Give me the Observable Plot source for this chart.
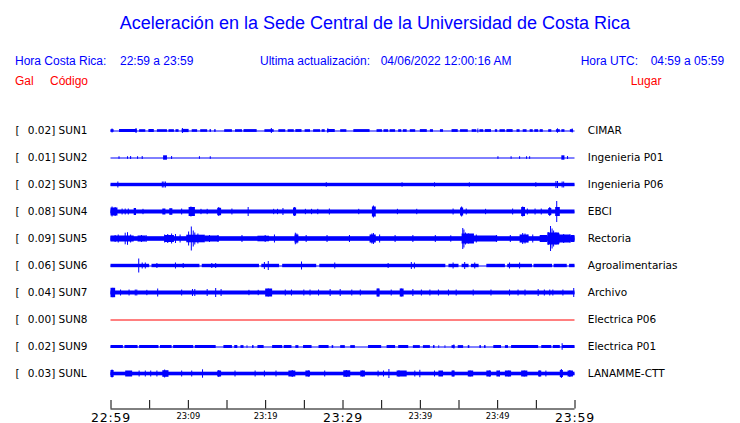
<!DOCTYPE html>
<html><head><meta charset="utf-8">
<script src="https://cdn.jsdelivr.net/npm/d3@7"></script>
<script src="https://cdn.jsdelivr.net/npm/@observablehq/plot@0.6"></script>
<style>
body{margin:0;background:#fff;}
#wrap{position:relative;width:740px;height:423px;overflow:hidden;}
#chart,#head{position:absolute;left:0;top:0;}
</style></head><body>
<div id="wrap"><div id="chart"></div><svg id="head" width="740" height="100"></svg></div>
<script>
// ---------- data ----------
const TITLE = "Aceleración en la Sede Central de la Universidad de Costa Rica";
const LOCAL_LABEL = "Hora Costa Rica:", LOCAL_RANGE = "22:59 a 23:59";
const UPDATE_LABEL = "Ultima actualización:", UPDATE_TIME = "04/06/2022 12:00:16 AM";
const UTC_LABEL = "Hora UTC:", UTC_RANGE = "04:59 a 05:59";
const COL_HEADS = ["Gal", "Código", "Lugar"];

const CODES = ["SUN1","SUN2","SUN3","SUN4","SUN5","SUN6","SUN7","SUN8","SUN9","SUNL"];
const GAL = [0.02, 0.01, 0.02, 0.08, 0.09, 0.06, 0.04, 0.00, 0.02, 0.03];
const PLACES = ["CIMAR","Ingenieria P01","Ingenieria P06","EBCI","Rectoria","Agroalimentarias","Archivo","Electrica P06","Electrica P01","LANAMME-CTT"];

// minutes after 22:59
const TICK_MINUTES = [0,5,10,15,20,25,30,35,40,45,50,55,60];
const LABEL_MINUTES = [0,10,20,30,40,50,60];
const LABEL_TEXT = ["22:59","23:09","23:19","23:29","23:39","23:49","23:59"];
const MAJOR_LABELS = ["22:59","23:29","23:59"];

// trace envelopes: segments [startMin, endMin, halfAmplitude] and spikes [min, halfAmplitude]
const SEGS = [
  [[0,0.4,1.3],[1.1,3.4,1.5],[3.7,4.5,1.3],[4.9,5.6,1.5],[6.0,7.3,1.3],[7.5,8.2,1.3],[8.4,8.8,1.3],[9.2,10.1,1.6],[10.5,11.2,1.3],[11.6,12.5,1.3],[12.8,13.0,1.3],[13.4,13.6,1.3],[14.7,15.7,1.3],[16.1,17.0,1.3],[17.2,18.9,1.4],[19.9,21.1,1.3],[21.7,22.6,1.3],[22.9,23.7,1.3],[23.9,24.7,1.4],[25.1,25.8,1.3],[26.2,27.1,1.3],[27.3,27.7,1.3],[28.0,29.0,1.5],[29.7,30.5,1.3],[31.4,33.5,1.4],[34.4,35.1,1.3],[35.3,35.9,1.3],[36.1,36.8,1.3],[37.2,37.6,1.3],[37.8,38.3,1.3],[38.7,39.4,1.3],[40.0,40.9,1.4],[41.3,41.7,1.3],[42.6,43.0,1.3],[44.1,44.9,1.4],[45.2,46.2,1.3],[46.7,47.3,1.3],[47.7,48.2,1.3],[48.4,49.2,1.4],[49.7,50.0,1.3],[50.3,51.0,1.3],[51.2,52.0,1.4],[52.5,52.9,1.3],[53.3,53.8,1.3],[54.2,54.6,1.3],[54.8,55.3,1.3],[55.5,55.9,1.3],[56.6,57.0,1.3],[57.6,58.1,1.3],[58.3,58.7,1.3],[59.4,59.8,1.3]],
  [[6.8,7.3,2.2],[58.3,58.7,2.2]],
  [[0,60,1.7]],
  [[0,60,2],[0,0.9,4],[3.0,3.3,3.5],[6.7,7.1,3],[7.6,8.0,3.3],[10.1,10.9,4.5],[13.8,14.3,3.7],[23.6,24.0,4],[33.8,34.3,5],[45.2,45.6,4],[53.1,53.6,4.5],[56.6,57.0,3.5],[57.5,58.1,4.5]],
  [[0,60,2.3],[0,3.0,3],[3.5,4.5,3],[7.0,8.2,3.5],[9.8,12.2,3.8],[12.2,14.0,3],[19.0,20.5,2.8],[23.8,24.3,4],[33.5,34.3,4],[45.4,47.0,5],[47.0,50,3],[52.9,54.0,4],[55.5,56.5,3.5],[56.5,58.0,6],[58.0,59.5,4],[59.5,60,3.5]],
  [[0,5.0,1.7],[5.3,11.5,1.7],[11.8,19.2,1.7],[19.5,21.8,1.7],[22.2,26.6,1.7],[27.0,43.3,1.7],[43.7,45.0,1.7],[45.4,46.3,1.7],[46.6,47.6,1.7],[48.6,51.0,1.7],[51.3,54.5,1.7],[54.7,57.1,1.7],[57.3,59.0,1.7],[59.3,60,1.7]],
  [[0,60,2],[0,0.6,4.7],[20.0,20.9,4],[34.4,34.8,4],[37.4,37.9,4]],
  [],
  [[0,1.6,1.5],[1.8,3.5,1.5],[3.7,6.2,1.5],[6.4,7.9,1.5],[8.1,10.7,1.5],[10.9,13.6,1.5],[14.6,15.7,1.5],[16.0,16.4,1.5],[16.8,17.2,1.4],[17.6,17.7,1.4],[18.3,18.5,1.4],[19.0,19.8,1.5],[20.9,22.2,1.5],[22.4,23.4,1.5],[23.9,24.3,1.4],[24.9,26.0,1.5],[26.9,28.2,1.5],[28.6,28.8,1.4],[29.7,30.3,1.4],[31.0,31.6,1.4],[33.3,35.0,1.5],[35.7,36.8,1.5],[37.2,38.5,1.5],[39.1,40.0,1.4],[40.4,41.3,1.4],[41.7,41.9,1.4],[42.4,42.5,1.4],[43.2,43.3,1.4],[44.1,44.5,1.4],[44.9,45.6,1.4],[46.2,46.4,1.4],[47.7,47.9,1.4],[48.3,48.5,1.4],[49.5,50.5,1.5],[51.0,51.4,1.4],[51.8,55.3,1.5],[55.7,57.0,1.5],[57.2,58.1,1.5],[58.4,60,1.5]],
  [[0,60,1.8],[0,0.4,3.5],[1.9,2.8,3],[6.7,7.5,3.3],[13.8,14.3,3],[23.0,23.9,3],[25.2,25.8,3],[30.1,31.0,3.2],[32.3,32.9,3],[37.0,38.3,3],[42.4,43.0,3],[44.1,44.5,3],[46.2,46.9,3],[48.6,49.2,3],[49.9,50.3,3],[51.0,51.8,3],[53.1,53.9,3],[55.3,55.7,3],[58.1,58.5,3.5],[59.1,59.8,3]]
];
const SPIKES = [
  [[0.2,2],[3.3,2.5],[9.3,2.5],[20.8,2.5],[28.1,2.2],[47.5,2],[57.8,2.2],[59.7,2]],
  [[1.1,1.3],[2.2,1.3],[2.6,1.5],[3.5,1.3],[4.1,1.5],[7.9,1.5],[11.5,1.3],[12.9,1.3],[50.1,1.3],[51.8,1.3],[52.9,1.3],[53.8,1.3],[54.2,1.3],[59.1,1.5]],
  [[0.95,3],[6.7,3],[6.9,3],[7.1,3],[27.9,2.3],[37.7,2.2],[41.9,2.2],[46.4,2.2],[55.0,2.3],[57.6,3.5],[57.8,3.5],[58.4,3],[58.6,3]],
  [[0.2,5],[0.6,4.5],[1.5,3],[1.9,3],[2.3,3],[4.2,2.7],[9.2,3],[10.4,5],[10.8,4.5],[11.7,2.7],[12.5,2.7],[14.0,4.5],[15.7,3],[17.8,4.5],[21.1,2.7],[21.6,2.7],[22.3,3.5],[23.8,4.5],[25.2,2.7],[26.0,2.7],[26.8,2.7],[28.3,3],[32.1,2.7],[34.0,6],[37.1,2.7],[39.6,2.7],[44.3,3],[45.4,5],[46.0,3],[48.5,2.7],[52.0,3],[53.3,5],[53.9,3],[54.9,3],[55.7,3],[56.8,4.5],[57.7,10.5]],
  [[0.6,3.5],[1.0,4],[1.9,5.8],[2.2,6.3],[2.6,4],[4.0,3.5],[4.6,3.5],[7.0,4],[7.4,4.5],[7.9,5],[8.4,4.5],[9.0,4],[10.1,7],[10.45,12],[10.7,8],[10.9,6],[11.3,5],[12.8,3.5],[13.9,3.5],[17.0,3.5],[20.0,3.5],[21.2,4],[23.9,5.8],[24.1,5],[25.3,3.5],[28.0,3.5],[30.9,3.5],[33.8,5],[34.0,5.5],[34.8,4],[36.8,3.5],[39.1,3.5],[42.0,3.5],[44.0,3.2],[45.55,10.5],[45.7,9],[45.9,6],[46.3,5],[47.3,4],[49.9,3.5],[51.7,3.5],[53.3,5.5],[53.6,5],[54.0,4],[54.6,4],[56.6,6.5],[56.9,12.5],[57.1,10],[57.3,8],[57.6,6],[58.0,5],[58.6,4.5],[59.4,4]],
  [[3.65,7],[4.1,3],[4.5,3],[6.0,2.5],[8.4,3],[9.4,2.5],[13.1,2.5],[13.6,2.5],[19.9,3.5],[20.4,4.5],[24.7,4],[29.0,3],[35.9,2.5],[38.9,3.5],[39.3,3],[44.3,3],[45.8,3.5],[47.1,3],[51.6,3],[52.9,3]],
  [[0.3,4.7],[1.3,3],[2.4,3],[3.2,3],[3.4,3],[4.7,2.7],[6.1,4],[9.2,3],[10.6,3.5],[10.9,3.5],[12.5,3.5],[13.6,4.5],[14.3,3.5],[17.9,2.7],[19.1,2.7],[20.4,4],[22.6,3],[23.4,3],[25.0,3],[25.8,3],[26.9,3],[28.4,3.5],[29.7,3.5],[31.2,3],[32.3,3],[34.6,4],[36.3,3],[37.6,4],[39.1,3.5],[40.2,3],[41.3,3],[42.4,3],[43.7,3],[44.7,3],[46.9,3],[49.2,3],[51.6,3],[52.7,3],[53.6,3],[55.3,3.5],[56.1,3],[56.8,3],[57.2,3],[58.5,3],[59.9,4.5]],
  [],
  [[44.4,2],[58.4,3.3]],
  [[0.2,4],[3.7,3],[4.5,3],[5.2,3],[6.0,3],[7.0,4],[9.2,3],[10.5,3],[11.9,4.2],[14.0,3.5],[16.1,3],[18.7,3],[19.9,3],[21.4,3],[23.5,3.5],[25.6,3],[27.7,3],[30.5,3.5],[32.6,3],[34.6,3],[35.3,3],[36.0,4.5],[37.3,3.2],[39.35,3],[40.0,3.7],[41.9,3],[44.3,3],[46.5,3],[49.0,3],[50.3,3],[51.5,3],[53.5,3],[55.5,3],[56.3,3],[58.3,4.5],[59.4,3.5]]
];

// ---------- layout / style ----------
const PITCH = 27;          // trace amplitude units per row
const SPIKE_W = 0.13;      // minutes
const BLUE = "#0000ff", RED = "#ff0000";
const AXIS_Y = 9 + 35 / PITCH, TICK_TOP = 9 + 26.5 / PITCH;
const traceColor = i => GAL[i] === 0 ? RED : BLUE;

const rows = CODES.map((code, i) => ({i, code, gal: GAL[i], place: PLACES[i]}));
const rects = [];
rows.forEach(({i}) => {
  SEGS[i].forEach(([a, b, h]) => rects.push({i, x1: a, x2: b, h}));
  SPIKES[i].forEach(([m, h]) => rects.push({i, x1: m - SPIKE_W / 2, x2: m + SPIKE_W / 2, h}));
});
const labels = LABEL_MINUTES.map((m, k) => ({m, t: LABEL_TEXT[k], major: MAJOR_LABELS.includes(LABEL_TEXT[k])}));

const chart = Plot.plot({
  width: 740, height: 423,
  marginLeft: 110.5, marginRight: 165.5, marginTop: 130.5, marginBottom: 49.5,
  x: {domain: [0, 60], axis: null},
  y: {domain: [0, 9], reverse: true, axis: null},
  color: {type: "identity"},
  style: {background: "transparent", fontFamily: "'DejaVu Sans', sans-serif", overflow: "visible"},
  marks: [
    Plot.ruleY(rows, {y: "i", stroke: d => traceColor(d.i), strokeWidth: 1}),
    Plot.rect(rects, {x1: "x1", x2: "x2", y1: d => d.i - d.h / PITCH, y2: d => d.i + d.h / PITCH, fill: d => traceColor(d.i)}),
    Plot.text(rows, {y: "i", frameAnchor: "left", dx: -95.5, textAnchor: "start", text: () => "[", fontSize: 10.5, fill: "black"}),
    Plot.text(rows, {y: "i", frameAnchor: "left", dx: -83.2, textAnchor: "start", text: d => `${d.gal.toFixed(2)}] ${d.code}`, fontSize: 10.5, fill: "black"}),
    Plot.text(rows, {y: "i", frameAnchor: "right", dx: 12.8, textAnchor: "start", text: "place", fontSize: 10.5, fill: "black"}),
    Plot.ruleY([AXIS_Y], {stroke: "black", strokeWidth: 1}),
    Plot.ruleX(TICK_MINUTES, {x: d => d, y1: TICK_TOP, y2: AXIS_Y, stroke: "black", strokeWidth: 1}),
    Plot.text(labels.filter(d => d.major), {x: "m", y: AXIS_Y, text: "t", dy: 12.5, lineAnchor: "bottom", fontSize: 12.5, fill: "black"}),
    Plot.text(labels.filter(d => !d.major), {x: "m", y: AXIS_Y, text: "t", dy: 10.2, lineAnchor: "bottom", fontSize: 8.3, fill: "black"})
  ]
});
document.getElementById("chart").appendChild(chart);
d3.select(chart).selectAll("text").filter(function() { return MAJOR_LABELS.includes(this.textContent); })
  .attr("letter-spacing", 0.8);

// ---------- header ----------
const head = d3.select("#head").attr("font-family", "'Liberation Sans', Arial, sans-serif");
const put = (x, y, t, size, fill, anchor = "start") =>
  head.append("text").attr("x", x).attr("y", y).attr("font-size", size).attr("fill", fill).attr("text-anchor", anchor).text(t);
put(375, 29, TITLE, 18, BLUE, "middle");
put(15, 65, LOCAL_LABEL, 12, BLUE);
put(120, 65, LOCAL_RANGE, 12, BLUE);
put(260, 65, UPDATE_LABEL, 12, BLUE);
put(380.7, 65, UPDATE_TIME, 12, BLUE);
put(580.7, 65, UTC_LABEL, 12, BLUE);
put(650.7, 65, UTC_RANGE, 12, BLUE);
put(15, 84.5, COL_HEADS[0], 12, RED);
put(50, 84.5, COL_HEADS[1], 12, RED);
put(630.7, 84.5, COL_HEADS[2], 12, RED);
</script>
</body></html>
